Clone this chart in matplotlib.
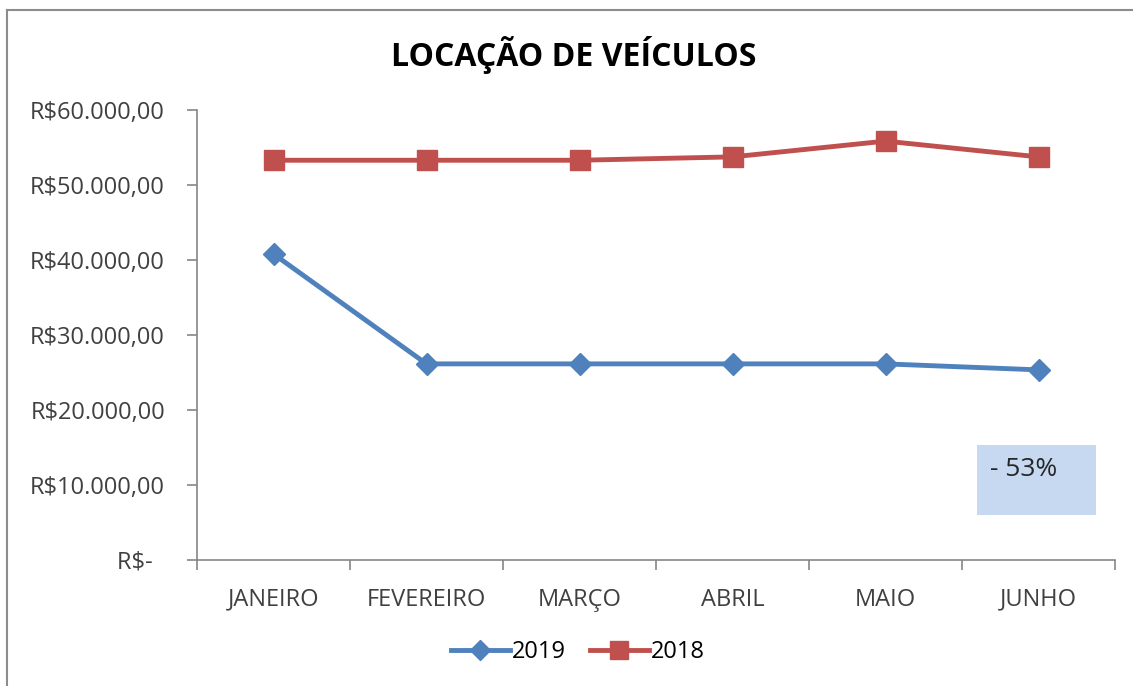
import matplotlib.pyplot as plt
from matplotlib.ticker import FixedLocator, FuncFormatter
from matplotlib.lines import Line2D

# chart data
meses = ["JANEIRO", "FEVEREIRO", "MARÇO", "ABRIL", "MAIO", "JUNHO"]
valores_2019 = [40800, 26150, 26150, 26150, 26150, 25350]
valores_2018 = [53300, 53300, 53300, 53750, 55850, 53750]
y_ticks = [0, 10000, 20000, 30000, 40000, 50000, 60000]

AZUL = "#4F81BD"
VERMELHO = "#C0504D"
CINZA = "#868686"

plt.rcParams["font.family"] = ["Open Sans", "DejaVu Sans"]


def moeda(v, pos=None):
    if v == 0:
        return "R$-  "
    s = f"{v:,.2f}".replace(",", "X").replace(".", ",").replace("X", ".")
    return "R$" + s


fig = plt.figure(figsize=(11.33, 6.86), dpi=100)
ax = fig.add_axes([197 / 1133, 1 - 560 / 686, (1115 - 197) / 1133, 450 / 686])

x = list(range(len(meses)))
ax.plot(x, valores_2019, color=AZUL, lw=3.5, marker="D", ms=11, label="2019", zorder=3)
ax.plot(x, valores_2018, color=VERMELHO, lw=3.5, marker="s", ms=14, label="2018", zorder=3)

ax.set_xlim(-0.5, len(meses) - 0.5)
ax.set_ylim(0, 60000)
ax.set_yticks(y_ticks)
ax.yaxis.set_major_formatter(FuncFormatter(moeda))

# category boundaries carry the tick marks, labels sit in the middle
ax.xaxis.set_major_locator(FixedLocator([i - 0.5 for i in range(len(meses) + 1)]))
ax.xaxis.set_minor_locator(FixedLocator(x))
ax.set_xticklabels([])
ax.set_xticklabels(meses, minor=True)
ax.tick_params(axis="x", which="major", length=7, color=CINZA, width=1.2)
ax.tick_params(axis="x", which="minor", length=0, pad=20, labelsize=17, labelcolor="#404040")
ax.tick_params(axis="y", length=7, color=CINZA, width=1.2, pad=16, labelsize=17, labelcolor="#404040")

for side in ("top", "right"):
    ax.spines[side].set_visible(False)
for side in ("left", "bottom"):
    ax.spines[side].set_color(CINZA)
    ax.spines[side].set_linewidth(1.2)

fig.text(574 / 1133, 1 - 55 / 686, "LOCAÇÃO DE VEÍCULOS", ha="center", va="center",
         fontsize=23, fontweight="bold", color="black")

# highlighted note
fig.patches.append(plt.Rectangle((977 / 1133, 1 - 515 / 686), 119 / 1133, 70 / 686,
                                 transform=fig.transFigure, facecolor="#C6D9F1",
                                 edgecolor="none", zorder=1))
fig.text(990 / 1133, 1 - 470 / 686, "- 53%", ha="left", va="center", fontsize=19,
         color="#262626")

handles = [Line2D([], [], color=AZUL, lw=3.5, marker="D", ms=10),
           Line2D([], [], color=VERMELHO, lw=3.5, marker="s", ms=13)]
fig.legend(handles, ["2019", "2018"], loc="center", bbox_to_anchor=(578 / 1133, 1 - 652 / 686),
           ncol=2, frameon=False, fontsize=17, handlelength=2.5, handletextpad=0.1,
           columnspacing=1.0)

# chart frame (left and top edges visible)
fig.add_artist(Line2D([7 / 1133, 7 / 1133], [0, 1 - 10 / 686], color="#8C8C8C", lw=1.5,
                      transform=fig.transFigure))
fig.add_artist(Line2D([7 / 1133, 1], [1 - 10 / 686, 1 - 10 / 686], color="#8C8C8C", lw=1.5,
                      transform=fig.transFigure))

fig.savefig("out.png", dpi=100)
